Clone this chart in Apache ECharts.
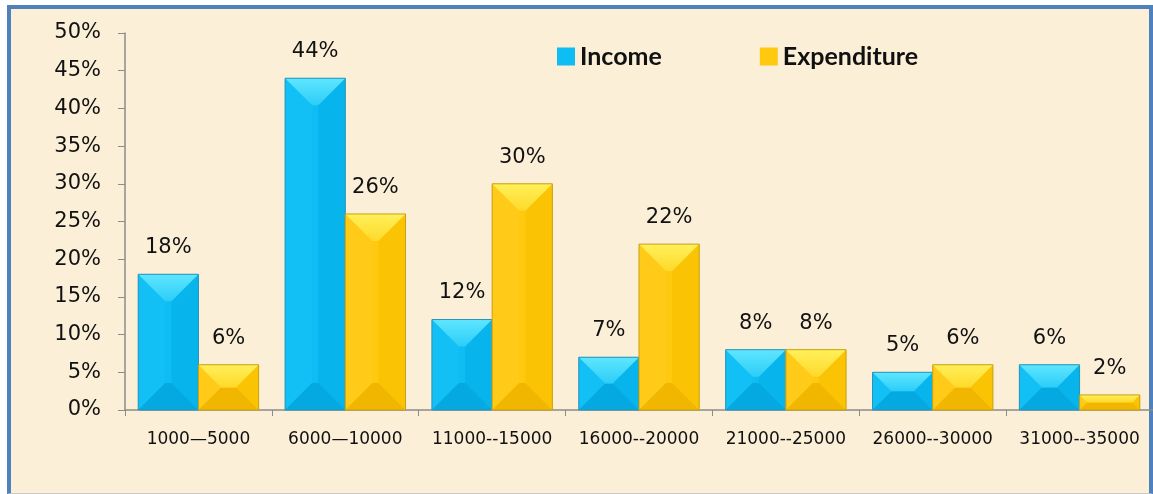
<!DOCTYPE html>
<html>
<head>
<meta charset="utf-8">
<script src="https://cdn.jsdelivr.net/npm/echarts@6/dist/echarts.min.js"></script>
<style>
  html, body { margin: 0; padding: 0; background: #fff; }
  #wrap { position: relative; width: 1153px; height: 494px; overflow: hidden; }
  #frame {
    position: absolute; left: 7px; top: 5px; width: 1138px; height: 484px;
    border: 4px solid #4f81bd; border-bottom: 1px solid #c9c9c9;
    background: #fbefd7;
  }
  #chart { position: absolute; left: 0; top: 0; width: 1153px; height: 494px; }
</style>
</head>
<body>
<div id="wrap">
  <div id="frame"></div>
  <div id="chart"></div>
</div>
<script>
const categories = ['1000\u20145000', '6000\u201410000', '11000--15000', '16000--20000', '21000--25000', '26000--30000', '31000--35000']
const income = [18, 44, 12, 7, 8, 5, 6]
const expenditure = [6, 26, 30, 22, 8, 6, 2]

const blue = { face: '#0dbdf4', top: ['#5fe6ff', '#2ccdf8'], left: '#12c0f5', right: '#07b4eb', bottom: '#03a9e0', edge: '#2a93b8' }
const gold = { face: '#ffc90f', top: ['#fff05a', '#ffd92a'], left: '#ffcb18', right: '#fac405', bottom: '#f1b700', edge: '#c9a010' }

// bar with an office style bevel, side -1 = left half of the band, 1 = right half
function bevelBar(side, pal) {
  return function (params, api) {
    const top = api.coord([api.value(0), api.value(1)])
    const base = api.coord([api.value(0), 0])
    const band = api.size([1, 0])[0]
    const w = band * 0.41
    const x = side < 0 ? top[0] - w : top[0]
    const y = top[1]
    const h = base[1] - top[1]
    const b = Math.min(27, h / 2, w / 2)
    const poly = (pts, fill) => ({ type: 'polygon', shape: { points: pts }, style: { fill: fill } })
    const topFill = { type: 'linear', x: 0, y: 0, x2: 0, y2: 1, colorStops: [{ offset: 0, color: pal.top[0] }, { offset: 1, color: pal.top[1] }] }
    return {
      type: 'group',
      children: [
        { type: 'rect', shape: { x: x, y: y, width: w, height: h }, style: { fill: pal.face } },
        poly([[x, y], [x + b, y + b], [x + b, y + h - b], [x, y + h]], pal.left),
        poly([[x + w, y], [x + w - b, y + b], [x + w - b, y + h - b], [x + w, y + h]], pal.right),
        poly([[x, y + h], [x + w, y + h], [x + w - b, y + h - b], [x + b, y + h - b]], pal.bottom),
        poly([[x, y], [x + w, y], [x + w - b, y + b], [x + b, y + b]], topFill),
        { type: 'rect', shape: { x: x, y: y, width: w, height: h }, style: { fill: 'none', stroke: pal.edge, lineWidth: 1 } },
        {
          type: 'text',
          style: {
            x: x + w / 2, y: y - 16,
            text: api.value(1) + '%',
            textAlign: 'center', textVerticalAlign: 'bottom',
            font: '21px "DejaVu Sans"', fill: '#111'
          }
        }
      ]
    }
  }
}

const chart = echarts.init(document.getElementById('chart'))
chart.setOption({
  backgroundColor: 'transparent',
  animation: false,
  grid: { left: 125, right: -1, top: 33, bottom: 84, containLabel: false },
  legend: {
    data: ['Income', 'Expenditure'],
    left: 552, top: 39,
    icon: 'rect', itemWidth: 18, itemHeight: 18, itemGap: 98,
    textStyle: { fontFamily: 'Lato', fontWeight: 'bold', fontSize: 25, color: '#111', padding: [0, 0, 0, 0] }
  },
  xAxis: {
    type: 'category',
    data: categories,
    axisLine: { lineStyle: { color: '#8c8c8c', width: 1.5 } },
    axisTick: { show: true, length: 6, lineStyle: { color: '#8c8c8c' } },
    axisLabel: { color: '#111', fontFamily: 'DejaVu Sans', fontSize: 17, margin: 21, interval: 0 }
  },
  yAxis: {
    type: 'value',
    min: 0, max: 50, interval: 5,
    splitLine: { show: false },
    axisLine: { show: true, lineStyle: { color: '#8c8c8c', width: 1.5 } },
    axisTick: { show: true, length: 7, lineStyle: { color: '#8c8c8c' } },
    axisLabel: { color: '#111', fontFamily: 'DejaVu Sans', fontSize: 21, margin: 24, formatter: '{value}%' }
  },
  series: [
    {
      name: 'Income',
      type: 'custom',
      renderItem: bevelBar(-1, blue),
      itemStyle: { color: blue.face },
      encode: { x: 0, y: 1 },
      data: income.map((v, i) => [i, v])
    },
    {
      name: 'Expenditure',
      type: 'custom',
      renderItem: bevelBar(1, gold),
      itemStyle: { color: gold.face },
      encode: { x: 0, y: 1 },
      data: expenditure.map((v, i) => [i, v])
    }
  ]
})
</script>
</body>
</html>
